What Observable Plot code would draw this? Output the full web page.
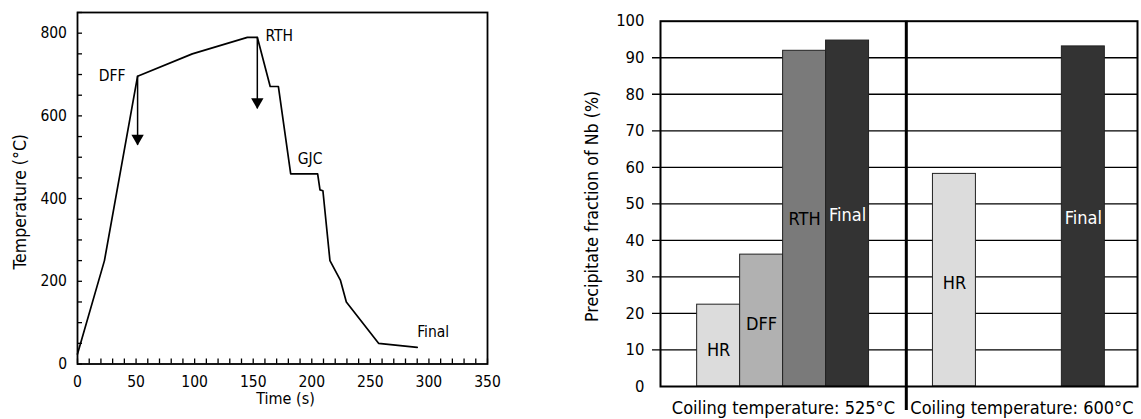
<!DOCTYPE html>
<html><head><meta charset="utf-8">
<script src="https://cdn.jsdelivr.net/npm/d3@7"></script>
<script src="https://cdn.jsdelivr.net/npm/@observablehq/plot@0.6"></script>
<style>
body{margin:0;background:#fff;}
#wrap{display:flex;width:1141px;height:419px;background:#fff;}
#wrap svg{display:block;overflow:visible;}
</style></head><body><div id="wrap"></div>
<script>
const FONT = '"DejaVu Sans Condensed","Liberation Sans",sans-serif';

// ---------- Left chart: thermal history ----------
const timeS = [0, 23, 51.3, 98, 145, 153.5, 164.5, 171.5, 182, 205, 207, 209.5, 215.5, 224.5, 229.5, 257, 290];
const tempC = [24, 250, 696, 750, 790, 790, 671, 671, 460, 460, 421, 419, 250, 202, 150, 50, 40];
const xTickLabels = [0, 50, 100, 150, 200, 250, 300, 350];
const yTickLabels = [0, 200, 400, 600, 800];
const pointNames = ["DFF", "RTH", "GJC", "Final"];
const arrowTime = [51.3, 153.5];
const arrowFromTemp = [696, 790];
const arrowToTemp = [529, 617];

// ---------- Right chart: precipitate fraction ----------
const stages = ["HR", "DFF", "RTH", "Final"];
const coilingLabels = ["Coiling temperature: 525°C", "Coiling temperature: 600°C"];
const fraction525 = [22.4, 36.1, 91.9, 94.7];
const fraction600 = [58.2, null, null, 93.1];
const yTicksRight = [0, 10, 20, 30, 40, 50, 60, 70, 80, 90, 100];

// layout (not data)
const nameLabelPos = [
  {x: 41, y: 696, anchor: "end"},
  {x: 160.5, y: 792, anchor: "start"},
  {x: 188, y: 496, anchor: "start"},
  {x: 290, y: 77, anchor: "start"}
];
const stageFill = ["#dcdcdc", "#b1b1b1", "#7a7a7a", "#333333"];
const stageText = ["#000", "#000", "#000", "#fff"];
const groupStart = [0.853, 6.34];
const dividerPos = 5.72;
const slotDomain = [0, 11.1];
const captionPos = [dividerPos / 2, (dividerPos + slotDomain[1]) / 2];
const barLabelY = [[10, 17, 45.7, 47], [28.3, null, null, 46]];

const curve = timeS.map((t, i) => ({t, T: tempC[i]}));
const names = pointNames.map((n, i) => ({n, ...nameLabelPos[i]}));
const arrows = arrowTime.map((t, i) => ({t, a: arrowFromTemp[i], b: arrowToTemp[i]}));

const left = Plot.plot({
  width: 560, height: 419,
  marginLeft: 77, marginRight: 73, marginTop: 12, marginBottom: 55.5,
  x: {domain: [0, 350]},
  y: {domain: [0, 850]},
  style: {fontFamily: FONT, fontSize: "15px", color: "#000", background: "#fff", overflow: "visible"},
  marks: [
    Plot.axisX(d3.range(0, 351, 10), {tickSize: -5, fill: "none", strokeWidth: 1.3, label: null}),
    Plot.axisX(xTickLabels, {tickSize: 0, tickPadding: 12, fontSize: 15.5, label: null}),
    Plot.axisY(d3.range(0, 851, 50), {tickSize: -5, fill: "none", strokeWidth: 1.3, label: null}),
    Plot.axisY(yTickLabels, {tickSize: 0, tickPadding: 10.5, fontSize: 15.5, label: null}),
    Plot.frame({stroke: "#000", strokeWidth: 1.8}),
    Plot.line(curve, {x: "t", y: "T", stroke: "#000", strokeWidth: 1.7}),
    Plot.ruleX(arrows, {x: "t", y1: "a", y2: "b", stroke: "#000", strokeWidth: 1.5}),
    Plot.dot(arrows, {x: "t", y: "b", symbol: "triangle", rotate: 180, r: 4.6, fill: "#000", stroke: "none", dy: -7}),
    Plot.text(names.filter(d => d.anchor === "end"), {x: "x", y: "y", text: "n", textAnchor: "end", fontSize: 15.5, fill: "#000"}),
    Plot.text(names.filter(d => d.anchor === "start"), {x: "x", y: "y", text: "n", textAnchor: "start", fontSize: 15.5, fill: "#000"}),
    Plot.text(["Time (s)"], {frameAnchor: "bottom", textAnchor: "middle", lineAnchor: "bottom", dx: 3, dy: 39.5, fontSize: 16, fill: "#000"}),
    Plot.text(["Temperature (°C)"], {frameAnchor: "left", textAnchor: "middle", rotate: -90, dx: -57, dy: 13.5, fontSize: 17.5, fill: "#000"})
  ]
});

const bars = [];
stages.forEach((s, i) => {
  if (fraction525[i] != null) bars.push({g: 0, s: i, stage: s, v: fraction525[i]});
  if (fraction600[i] != null) bars.push({g: 1, s: i, stage: s, v: fraction600[i]});
});

const right = Plot.plot({
  width: 581, height: 419,
  marginLeft: 100, marginRight: 4, marginTop: 20.7, marginBottom: 33,
  x: {domain: slotDomain, axis: null},
  y: {domain: [0, 100], axis: null},
  style: {fontFamily: FONT, fontSize: "16px", color: "#000", background: "#fff", overflow: "visible"},
  marks: [
    Plot.ruleY(d3.range(10, 91, 10), {stroke: "#000", strokeWidth: 1.3, insetLeft: -8}),
    Plot.rect(bars, {
      x1: d => groupStart[d.g] + d.s, x2: d => groupStart[d.g] + d.s + 1,
      y1: 0, y2: "v",
      fill: d => stageFill[d.s], stroke: "#222", strokeWidth: 1
    }),
    Plot.frame({stroke: "#000", strokeWidth: 2}),
    Plot.ruleX([dividerPos], {stroke: "#000", strokeWidth: 3, insetBottom: -24}),
    Plot.text(bars, {
      x: d => groupStart[d.g] + d.s + 0.5, y: d => barLabelY[d.g][d.s],
      text: "stage", fill: d => stageText[d.s], fontSize: 18
    }),
    Plot.text(coilingLabels, {x: (d, i) => captionPos[i], frameAnchor: "bottom", textAnchor: "middle", lineAnchor: "bottom", dy: 27, fontSize: 18, fill: "#000"}),
    Plot.axisY(yTicksRight, {tickSize: 0, tickPadding: 16, fontSize: 16.5, label: null}),
    Plot.text(["Precipitate fraction of Nb (%)"], {frameAnchor: "left", textAnchor: "middle", rotate: -90, dx: -67.7, dy: 2.5, fontSize: 17.7, fill: "#000"})
  ]
});

document.getElementById("wrap").append(left, right);
</script></body></html>
